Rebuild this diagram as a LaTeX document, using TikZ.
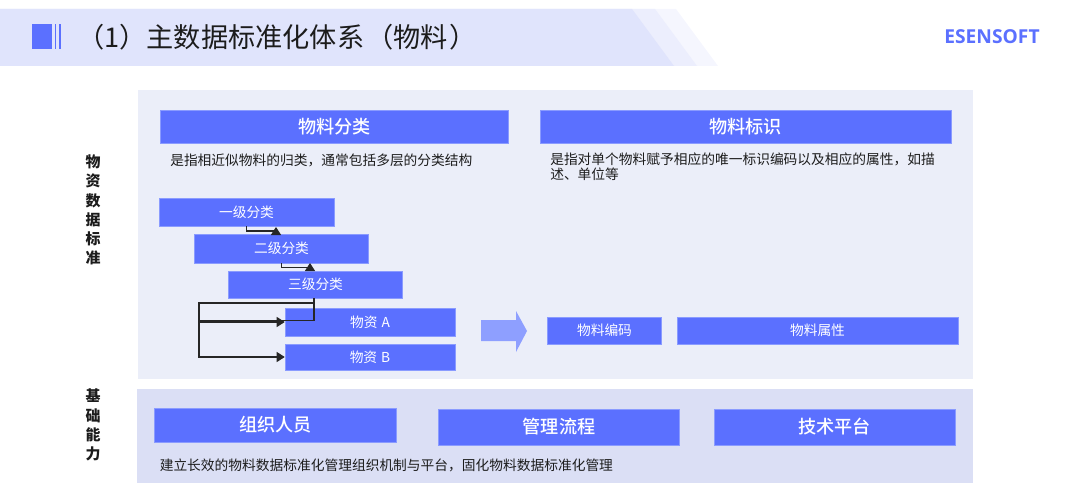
\documentclass[tikz,border=0pt]{standalone}
\usepackage{fontspec}
\setmainfont{Noto Sans CJK SC}
\newfontfamily\logofont{Open Sans}
\newfontfamily\medfont{Noto Sans CJK SC Medium}
\usepackage{xcolor}
\usetikzlibrary{arrows.meta}
\definecolor{ESblue}{HTML}{5B70FF}
\definecolor{ESedge}{HTML}{8A9BFF}
\definecolor{ESarrow}{HTML}{8E9FFF}
\definecolor{ESband}{HTML}{E0E4FC}
\definecolor{ESbandmid}{HTML}{ECEEFD}
\definecolor{ESbandlight}{HTML}{F5F6FE}
\definecolor{ESpanel}{HTML}{EBEEF9}
\definecolor{ESpaneldark}{HTML}{DBDFF5}
\definecolor{EStext}{HTML}{1C1C1C}
\newcommand{\px}{0.75pt}
\tikzset{
  bluebox/.style={draw=ESedge,line width=0.4pt,fill=ESblue,text=white,inner sep=0pt},
  headbox/.style={bluebox,font=\medfont\fontsize{13.6}{16}\selectfont},
  smallbox/.style={bluebox,font=\fontsize{10.3}{12}\selectfont},
  sidelabel/.style={align=center,text=EStext,inner sep=0pt,font=\fontsize{11.2}{14.4}\selectfont\bfseries},
  bodytext/.style={anchor=west,align=left,text=EStext,inner sep=0pt,font=\fontsize{10.3}{11.4}\selectfont},
  elbow/.style={draw=black!85,line width=0.8pt},
  elbowhead/.style={elbow,-{Triangle[length=6pt,width=7.5pt]}}
}
\begin{document}
\begin{tikzpicture}[x=\px,y=-\px]
  \useasboundingbox (0,0) rectangle (1080,495);
  % title band
  \fill[ESbandlight] (0,9) -- (676,9) -- (718,66) -- (0,66) -- cycle;
  \fill[ESbandmid] (0,9) -- (655,9) -- (697,66) -- (0,66) -- cycle;
  \fill[ESband] (0,9) -- (632,9) -- (674,66) -- (0,66) -- cycle;
  \fill[ESblue] (32,24) rectangle (52,49);
  \fill[ESblue] (54.5,24) rectangle (56,49);
  \fill[ESblue] (59,24) rectangle (60.5,49);
  \node[anchor=west,inner sep=0pt,text=EStext,font=\fontsize{20.4}{24}\selectfont] (title) at (77,37) {（1）主数据标准化体系\hspace{1.5pt}（物料\hspace{1.5pt}）};
  \node[text=ESblue,inner sep=0pt,font=\logofont\fontsize{14.4}{16}\selectfont\bfseries] (logo) at (992,37) {ESENSOFT};
  % panels
  \fill[ESpanel] (138,90) rectangle (973,379);
  \fill[ESpaneldark] (137,389) rectangle (973,483);
  \node[sidelabel] (wzbz) at (93,210) {物\\资\\数\\据\\标\\准};
  \node[sidelabel] (jcnl) at (93,425) {基\\础\\能\\力};
  % upper panel
  \node[headbox,minimum width=348.5*\px,minimum height=33*\px] (wlfl) at (334.5,126.5) {物料分类};
  \node[headbox,minimum width=410.5*\px,minimum height=33*\px] (wlbs) at (745.5,126.5) {物料标识};
  \node[bodytext] (flnote) at (170,160) {是指相近似物料的归类，通常包括多层的分类结构};
  \node[bodytext] (bsnote) at (550,167) {是指对单个物料赋予相应的唯一标识编码以及相应的属性，如描\\述、单位等};
  \node[smallbox,minimum width=175*\px,minimum height=28*\px] (lvla) at (246.5,212) {一级分类};
  \node[smallbox,minimum width=174.5*\px,minimum height=29*\px] (lvlb) at (281.5,248.5) {二级分类};
  \node[smallbox,minimum width=174.5*\px,minimum height=27*\px] (lvlc) at (315.5,284.5) {三级分类};
  \node[smallbox,minimum width=170*\px,minimum height=28*\px] (wza) at (370,322) {物资\hspace{3pt}A};
  \node[smallbox,minimum width=170*\px,minimum height=26*\px] (wzb) at (370,357) {物资\hspace{3pt}B};
  \node[smallbox,minimum width=114.5*\px,minimum height=27*\px] (wlbm) at (604.5,330.5) {物料编码};
  \node[smallbox,minimum width=280.5*\px,minimum height=27*\px] (wlsx) at (817.5,330.5) {物料属性};
  \fill[ESarrow] (481,320) -- (516,320) -- (516,311) -- (527,331) -- (516,352) -- (516,341) -- (481,341) -- cycle;
  % connectors
  \coordinate (kneea) at (276,231);
  \coordinate (kneeb) at (310,267.5);
  \draw[elbow] (lvla.south) |- (kneea);
  \draw[elbowhead] (lvlb.north -| kneea) -- (276,227);
  \draw[elbow] (lvlb.south) |- (kneeb);
  \draw[elbowhead] (lvlc.north -| kneeb) -- (310,263);
  \coordinate (railtop) at (199,303);
  \coordinate (railmid) at (199,320.6);
  \coordinate (railarrow) at (199,322);
  \coordinate (lvlcout) at (314,298);
  \draw[elbow] (lvlcout) |- (railmid);
  \draw[elbowhead] (railarrow) -- (wza.west);
  \draw[elbowhead] (lvlcout) |- (railtop) |- (wzb.west);
  % lower panel
  \node[headbox,minimum width=242.5*\px,minimum height=34*\px] (zzry) at (275.5,425) {组织人员};
  \node[headbox,minimum width=241.5*\px,minimum height=36*\px] (gllc) at (559,427) {管理流程};
  \node[headbox,minimum width=241*\px,minimum height=36*\px] (jspt) at (834.5,427) {技术平台};
  \node[bodytext] (jsnote) at (159.5,465) {建立长效的物料数据标准化管理组织机制与平台，固化物料数据标准化管理};
\end{tikzpicture}
\end{document}
